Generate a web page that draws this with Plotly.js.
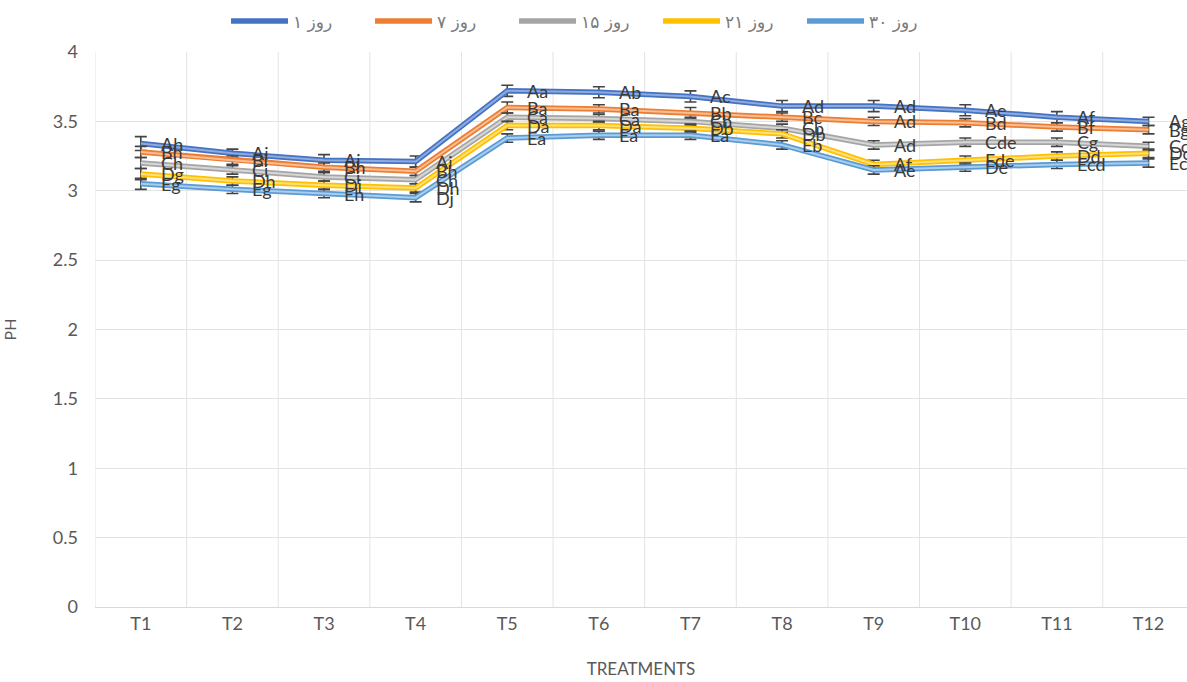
<!DOCTYPE html>
<html>
<head>
<meta charset="utf-8">
<script src="https://cdn.plot.ly/plotly-3.0.1.min.js"></script>
<style>html,body{margin:0;padding:0;background:#fff;}#chart{width:1187px;height:682px;}</style>
</head>
<body>
<div id="chart"></div>
<script>
const categories = ["T1","T2","T3","T4","T5","T6","T7","T8","T9","T10","T11","T12"];
const seriesNames = ["روز ۱","روز ۷","روز ۱۵","روز ۲۱","روز ۳۰"];

const day1  = [3.34, 3.27, 3.22, 3.21, 3.72, 3.71, 3.68, 3.61, 3.61, 3.58, 3.53, 3.50];
const day7  = [3.28, 3.22, 3.17, 3.14, 3.60, 3.59, 3.56, 3.53, 3.50, 3.49, 3.46, 3.44];
const day15 = [3.20, 3.15, 3.10, 3.08, 3.53, 3.52, 3.50, 3.45, 3.33, 3.35, 3.35, 3.32];
const day21 = [3.12, 3.07, 3.04, 3.02, 3.47, 3.47, 3.45, 3.41, 3.19, 3.22, 3.25, 3.27];
const day30 = [3.05, 3.01, 2.98, 2.95, 3.38, 3.40, 3.40, 3.33, 3.15, 3.17, 3.19, 3.20];

const err1  = [0.05, 0.03, 0.04, 0.04, 0.04, 0.04, 0.04, 0.04, 0.04, 0.04, 0.04, 0.03];
const err7  = [0.04, 0.03, 0.03, 0.03, 0.04, 0.03, 0.04, 0.03, 0.03, 0.03, 0.03, 0.03];
const err15 = [0.04, 0.03, 0.03, 0.03, 0.03, 0.03, 0.03, 0.03, 0.03, 0.03, 0.03, 0.03];
const err21 = [0.04, 0.03, 0.03, 0.03, 0.03, 0.03, 0.03, 0.03, 0.03, 0.03, 0.03, 0.03];
const err30 = [0.04, 0.03, 0.03, 0.03, 0.03, 0.03, 0.03, 0.03, 0.03, 0.03, 0.03, 0.03];

const lab1  = ["Ah","Ai","Aj","Ai","Aa","Ab","Ac","Ad","Ad","Ae","Af","Ag"];
const lab7  = ["Bh","Bi","Bh","Bh","Ba","Ba","Bb","Bc","Ad","Bd","Bf","Bg"];
const lab15 = ["Ch","Ci","Ci","Ch","Ca","Ca","Cb","Cb","Ad","Cde","Cg","Cc"];
const lab21 = ["Dg","Dh","Di","Dh","Da","Da","Db","Db","Af","Ede","Dd","Dc"];
const lab30 = ["Eg","Eg","Eh","Dj","Ea","Ea","Ea","Eb","Ae","De","Ecd","Ec"];

const outerColors = ["#4472C4","#ED7D31","#A5A5A5","#FFC000","#5B9BD5"];
const innerColors = ["#8FAADC","#F8BE96","#D6D6D6","#FFE07A","#A9CDEC"];

const values = [day1, day7, day15, day21, day30];
const errors = [err1, err7, err15, err21, err30];
const labels = [lab1, lab7, lab15, lab21, lab30];

const labelFont = {family: "Lato, 'Open Sans', sans-serif", size: 18, color: "#3a3a3a"};
const axisFont = {family: "Lato, 'Open Sans', sans-serif", size: 18, color: "#595959"};

const traces = [];
const annotations = [];
for (let s = 0; s < values.length; s++) {
  traces.push({
    x: categories, y: values[s], type: "scatter", mode: "lines",
    name: seriesNames[s], legendgroup: "g" + s, showlegend: true,
    line: {color: outerColors[s], width: 5.5},
    error_y: {type: "data", array: errors[s], visible: true, color: "#444444", thickness: 1.6, width: 6},
    hoverinfo: "skip"
  });
  traces.push({
    x: categories, y: values[s], type: "scatter", mode: "lines",
    name: seriesNames[s], legendgroup: "g" + s, showlegend: false,
    line: {color: innerColors[s], width: 2},
    hoverinfo: "skip"
  });
  for (let i = 0; i < categories.length; i++) {
    annotations.push({x: categories[i], y: values[s][i], xref: "x", yref: "y",
      text: labels[s][i], showarrow: false, xanchor: "left", yanchor: "middle",
      xshift: 18, font: labelFont});
  }
}

const shapes = [];
for (let i = 0; i < categories.length; i++) {
  shapes.push({type: "line", xref: "x", yref: "y", x0: i - 0.5, x1: i - 0.5, y0: 0, y1: 4,
    line: {color: "#E3E3E3", width: 1}, layer: "below"});
}

const layout = {
  width: 1187, height: 682,
  margin: {l: 95, r: 0, t: 52, b: 75},
  paper_bgcolor: "#ffffff", plot_bgcolor: "#ffffff",
  showlegend: true,
  legend: {orientation: "h", x: 0.12, xanchor: "left", y: 0.995, yanchor: "top",
    yref: "container", itemwidth: 57, entrywidth: 72, entrywidthmode: "pixels",
    font: {family: "'DejaVu Sans', sans-serif", size: 17, color: "#7a7a7a"}, traceorder: "normal"},
  xaxis: {type: "category", range: [-0.5, 11.42], showgrid: false, zeroline: false,
    showline: true, linecolor: "#D9D9D9", linewidth: 1, ticks: "",
    tickfont: axisFont,
    title: {text: "TREATMENTS", font: {family: "Lato, 'Open Sans', sans-serif", size: 17, color: "#595959"}, standoff: 30}},
  yaxis: {range: [0, 4], dtick: 0.5, tick0: 0, showgrid: true, gridcolor: "#E3E3E3", zeroline: false,
    showline: false, ticks: "", ticklabelstandoff: 16,
    tickfont: axisFont,
    title: {text: "PH", font: {family: "Lato, 'Open Sans', sans-serif", size: 16, color: "#595959"}, standoff: 36}},
  shapes: shapes,
  annotations: annotations
};

Plotly.newPlot("chart", traces, layout, {staticPlot: true, displayModeBar: false});
</script>
</body>
</html>
